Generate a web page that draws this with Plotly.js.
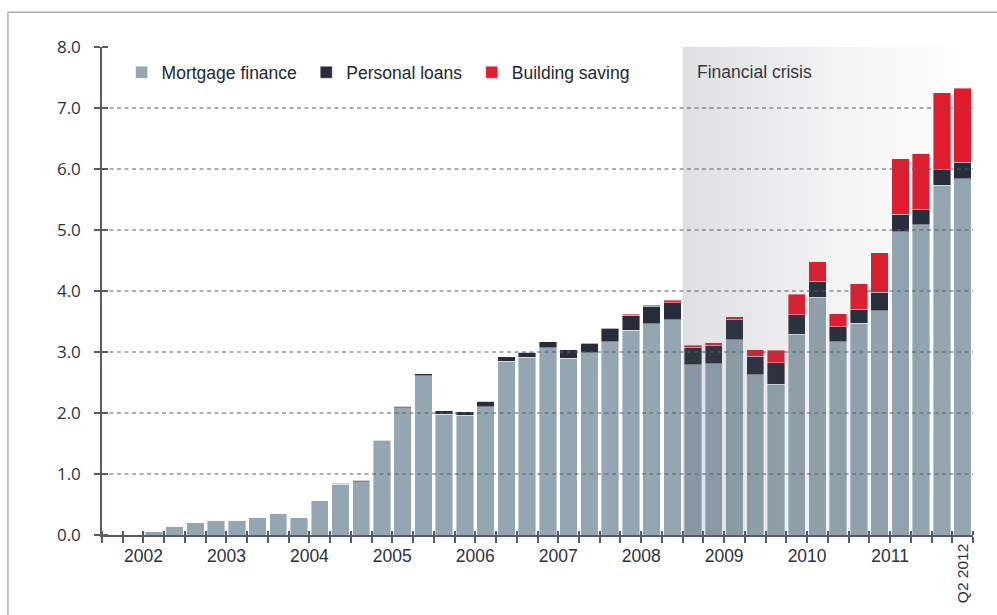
<!DOCTYPE html>
<html>
<head>
<meta charset="utf-8">
<script src="https://cdn.plot.ly/plotly-3.0.1.min.js"></script>
<style>
  html, body { margin: 0; padding: 0; background: #fff; }
  #chart { width: 997px; height: 615px; }
</style>
</head>
<body>
<div id="chart"></div>
<script>
// Quarterly new lending, 2002 Q1 – 2012 Q2, stacked by product.
const quarters = [
  "2002 Q1", "2002 Q2", "2002 Q3", "2002 Q4",
  "2003 Q1", "2003 Q2", "2003 Q3", "2003 Q4",
  "2004 Q1", "2004 Q2", "2004 Q3", "2004 Q4",
  "2005 Q1", "2005 Q2", "2005 Q3", "2005 Q4",
  "2006 Q1", "2006 Q2", "2006 Q3", "2006 Q4",
  "2007 Q1", "2007 Q2", "2007 Q3", "2007 Q4",
  "2008 Q1", "2008 Q2", "2008 Q3", "2008 Q4",
  "2009 Q1", "2009 Q2", "2009 Q3", "2009 Q4",
  "2010 Q1", "2010 Q2", "2010 Q3", "2010 Q4",
  "2011 Q1", "2011 Q2", "2011 Q3", "2011 Q4",
  "2012 Q1", "2012 Q2",
];

const mortgage = [
  0.01, 0.00, 0.05, 0.14,
  0.20, 0.24, 0.24, 0.29,
  0.36, 0.28, 0.56, 0.83,
  0.87, 1.55, 2.09, 2.61,
  1.98, 1.96, 2.10, 2.85,
  2.91, 3.07, 2.90, 2.99,
  3.17, 3.36, 3.46, 3.53,
  2.79, 2.81, 3.20, 2.63,
  2.47, 3.29, 3.90, 3.17,
  3.47, 3.68, 4.97, 5.09,
  5.73, 5.84,
];

const personal = [
  0.00, 0.00, 0.00, 0.00,
  0.00, 0.00, 0.00, 0.00,
  0.00, 0.00, 0.00, 0.015,
  0.03, 0.01, 0.02, 0.03,
  0.06, 0.06, 0.09, 0.07,
  0.09, 0.10, 0.14, 0.15,
  0.22, 0.24, 0.29, 0.28,
  0.29, 0.30, 0.34, 0.30,
  0.35, 0.32, 0.26, 0.24,
  0.23, 0.30, 0.29, 0.24,
  0.26, 0.27,
];

const building = [
  0.00, 0.00, 0.00, 0.00,
  0.00, 0.00, 0.00, 0.00,
  0.00, 0.00, 0.00, 0.00,
  0.00, 0.00, 0.00, 0.00,
  0.00, 0.00, 0.00, 0.00,
  0.00, 0.00, 0.00, 0.01,
  0.01, 0.02, 0.02, 0.04,
  0.03, 0.04, 0.04, 0.11,
  0.21, 0.34, 0.32, 0.22,
  0.42, 0.65, 0.91, 0.92,
  1.26, 1.21,
];

const years = ["2002", "2003", "2004", "2005", "2006", "2007", "2008", "2009", "2010", "2011"];
const yTicks = [0, 1, 2, 3, 4, 5, 6, 7, 8];
const gridValues = [1, 2, 3, 4, 5, 6, 7];
const crisisFrom = "2009 Q1";
const crisisLabel = "Financial crisis";
const lastLabel = "Q2 2012";

const COLORS = { mortgage: "#94a6b1", personal: "#262c39", building: "#e31b2c" };
const AXIS = "#555c67";
const LABEL_FONT = "'Liberation Sans', Arial, sans-serif";

const x = quarters.map((q, i) => i);

// quarter boundaries carry the ticks; the year label sits on the mid-year boundary.
// blank labels must be " " — an empty string makes plotly drop the major tick.
const boundaries = quarters.map((q, i) => i - 0.5).concat([quarters.length - 0.5]);
const boundaryText = boundaries.map((b, j) => (j % 4 === 2 && years[(j - 2) / 4]) ? years[(j - 2) / 4] : " ");

const crisisStart = quarters.indexOf(crisisFrom) - 0.5;
const crisisEnd = quarters.length - 0.5;
const yTop = yTicks[yTicks.length - 1];

function barTrace(name, values, color, legend) {
  return {
    x, y: values, type: "bar", name,
    marker: { color, line: { color: "rgba(255,255,255,0.5)", width: 0.8 } },
    legend,
    hovertemplate: "%{y:.2f}<extra>" + name + "</extra>",
  };
}

const traces = [
  barTrace("Mortgage finance", mortgage, COLORS.mortgage, "legend"),
  barTrace("Personal loans", personal, COLORS.personal, "legend2"),
  barTrace("Building saving", building, COLORS.building, "legend3"),
  {
    // crisis band: translucent overlay fading to the right
    x: [crisisStart, crisisEnd, crisisEnd, crisisStart],
    y: [0, 0, yTop, yTop],
    type: "scatter", mode: "none", fill: "toself",
    fillgradient: {
      type: "horizontal",
      colorscale: [[0, "rgba(90,96,108,0.2)"], [0.5, "rgba(90,96,108,0.08)"], [1, "rgba(90,96,108,0)"]],
    },
    showlegend: false, hoverinfo: "skip",
  },
];

const legendBase = {
  orientation: "h", yanchor: "middle", y: 0.948, xanchor: "left",
  bgcolor: "rgba(0,0,0,0)", borderwidth: 0,
  font: { family: LABEL_FONT, size: 17.5, color: "#222831" },
};

const layout = {
  width: 997, height: 615,
  margin: { l: 102, r: 24, t: 47, b: 80 },
  paper_bgcolor: "#fff", plot_bgcolor: "rgba(0,0,0,0)",
  barmode: "stack", bargap: 0.16,
  xaxis: {
    type: "linear",
    range: [boundaries[0], boundaries[boundaries.length - 1]],
    tickmode: "array", tickvals: boundaries, ticktext: boundaryText, tickangle: 0,
    ticks: "outside", ticklen: 6, tickwidth: 1.5, tickcolor: AXIS,
    minor: { tickmode: "array", tickvals: boundaries, ticks: "inside", ticklen: 4, tickwidth: 1.5, tickcolor: AXIS },
    ticklabelstandoff: -2,
    showline: true, linecolor: AXIS, linewidth: 1.5,
    showgrid: false, zeroline: false, fixedrange: true,
    tickfont: { family: LABEL_FONT, size: 17.5, color: "#2b313b" },
  },
  yaxis: {
    range: [0, yTop],
    tickmode: "array", tickvals: yTicks, ticktext: yTicks.map((v) => v.toFixed(1)),
    ticks: "outside", ticklen: 6, tickwidth: 1.5, tickcolor: AXIS,
    minor: { tickmode: "array", tickvals: yTicks, ticks: "inside", ticklen: 6, tickwidth: 1.5, tickcolor: AXIS },
    ticklabelstandoff: 10,
    showline: true, linecolor: AXIS, linewidth: 1.5,
    showgrid: false, zeroline: false, fixedrange: true,
    tickfont: { family: "'Open Sans', 'Noto Sans', sans-serif", size: 17, color: "#2b313b" },
  },
  legend: { ...legendBase, x: 0.0225 },
  legend2: { ...legendBase, x: 0.2345 },
  legend3: { ...legendBase, x: 0.4245 },
  shapes: [
    // outer frame
    { type: "rect", xref: "paper", yref: "paper", x0: -0.108, x1: 1.1, y0: -0.3, y1: 1.071,
      line: { color: "#a8b0ba", width: 1.5 }, layer: "below" },
    ...gridValues.map((v) => ({
      type: "line", xref: "paper", x0: 0, x1: 1, yref: "y", y0: v, y1: v,
      line: { color: "#575d67", width: 1.2, dash: "4px,3.5px" }, layer: "above",
    })),
  ],
  annotations: [
    { text: crisisLabel, xref: "x", x: crisisStart, xanchor: "left", xshift: 12,
      yref: "paper", y: 0.948, yanchor: "middle", showarrow: false,
      font: { family: LABEL_FONT, size: 17.5, color: "#333840" } },
    { text: lastLabel, xref: "x", x: quarters.length - 1, xanchor: "center",
      yref: "y", y: 0, yanchor: "top", yshift: -7, textangle: -90, showarrow: false,
      font: { family: LABEL_FONT, size: 15.5, color: "#2b313b" } },
  ],
  hovermode: "closest",
};

Plotly.newPlot("chart", traces, layout, { displayModeBar: false, responsive: false });
</script>
</body>
</html>
